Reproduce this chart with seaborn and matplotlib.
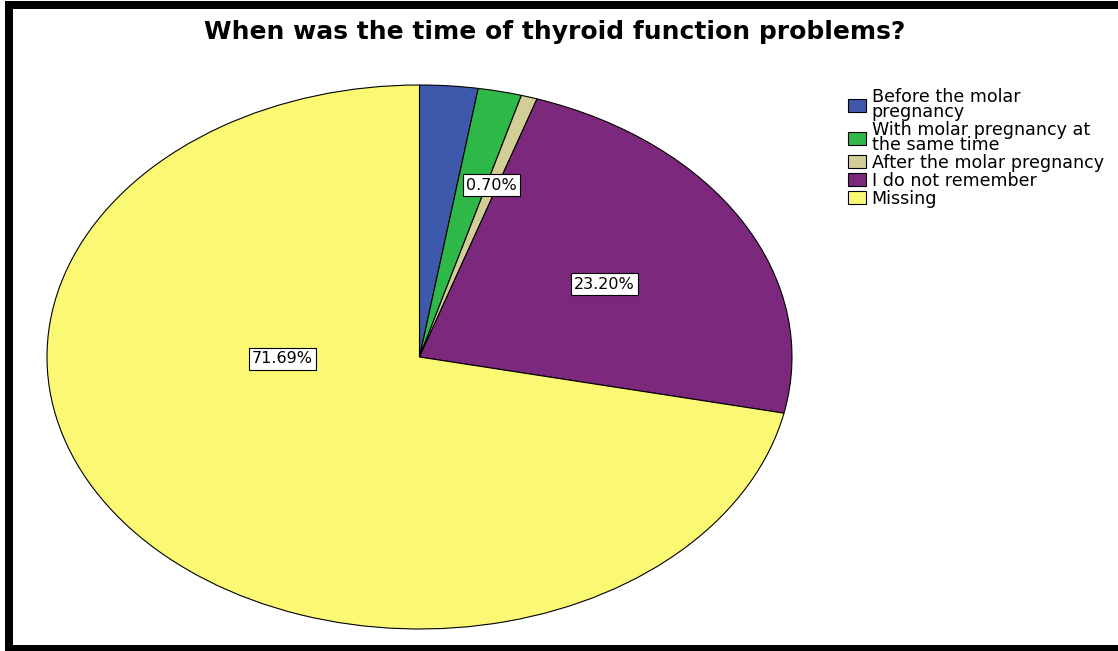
import matplotlib
matplotlib.use("Agg")
import matplotlib.pyplot as plt
import seaborn as sns
from matplotlib.patches import Rectangle, Patch

sns.set_theme(style="white")
plt.rcParams['font.family'] = ['Liberation Sans', 'DejaVu Sans']
plt.rcParams['text.color'] = 'black'

# ---- data ----
categories = ["Before the molar\npregnancy",
              "With molar pregnancy at\nthe same time",
              "After the molar pregnancy",
              "I do not remember",
              "Missing"]
values = [2.52, 1.89, 0.70, 23.20, 71.69]
shown_labels = ["", "", "0.70%", "23.20%", "71.69%"]
colors = ["#3E58AC", "#2EB848", "#D3CE97", "#7C287D", "#FBF873"]
title = "When was the time of thyroid function problems?"

# label positions (data coords inside the unit pie)
label_pos = [None, None, (0.194, 0.632), (0.497, 0.268), (-0.368, -0.007)]

W, H = 1118, 651
fig = plt.figure(figsize=(W / 100, H / 100), dpi=100)
fig.patch.set_facecolor("white")

# pie axes placed so the (elliptical) pie spans x 47-792, y 85-629
ax = fig.add_axes([47 / W, (H - 629) / H, 745 / W, 544 / H])
wedges, _ = ax.pie(values, colors=colors, startangle=90, counterclock=False,
                   wedgeprops=dict(edgecolor="black", linewidth=0.8),
                   radius=1.0, frame=False)
ax.set_aspect("auto")
ax.set_xlim(-1, 1)
ax.set_ylim(-1, 1)
ax.axis("off")

for lab, pos in zip(shown_labels, label_pos):
    if lab and pos is not None:
        ax.text(pos[0], pos[1], lab, ha="center", va="center", fontsize=11.5,
                family=["DejaVu Sans"], color="black",
                bbox=dict(boxstyle="square,pad=0.2", facecolor="white",
                          edgecolor="black", linewidth=0.8))

# title
fig.text(555 / W, 1 - 32 / H, title, ha="center", va="center",
         fontsize=18, fontweight="bold", color="black", family=["DejaVu Sans"])

# legend
handles = [Patch(facecolor=c, edgecolor="black", linewidth=0.8) for c in colors]
leg = fig.legend(handles, categories, loc="upper left",
                 bbox_to_anchor=(848 / W, 1 - 88 / H), frameon=False,
                 prop=dict(family="DejaVu Sans", size=12.6),
                 handlelength=1.05, handleheight=0.75, handletextpad=0.3,
                 labelspacing=0.0, borderpad=0.0, borderaxespad=0.0)
for t in leg.get_texts():
    t.set_linespacing(0.78)
    t.set_color("black")

# black frame (left, top, bottom bands)
fig.patches.append(Rectangle((5 / W, 0), 8 / W, 1 - 1 / H, transform=fig.transFigure,
                             facecolor="black", edgecolor="none"))
fig.patches.append(Rectangle((5 / W, 1 - 9 / H), 1, 8 / H, transform=fig.transFigure,
                             facecolor="black", edgecolor="none"))
fig.patches.append(Rectangle((5 / W, 0), 1, 6 / H, transform=fig.transFigure,
                             facecolor="black", edgecolor="none"))

fig.savefig("out.png", dpi=100, facecolor="white")
